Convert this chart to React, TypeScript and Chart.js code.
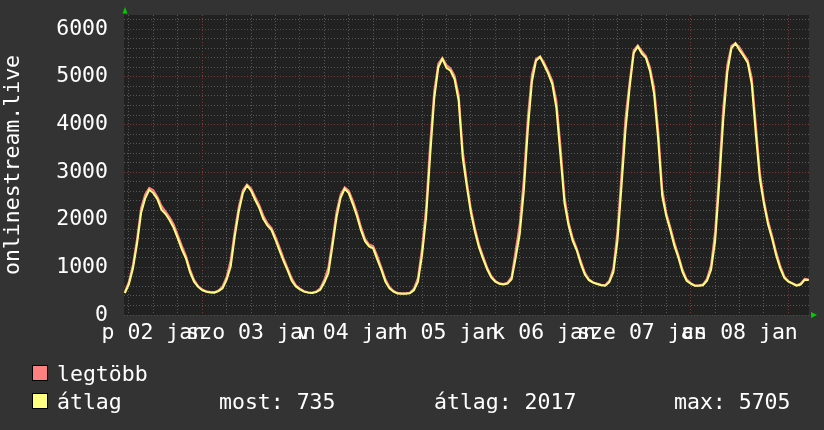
import React, { useEffect, useRef } from "react";
import { Chart, registerables } from "chart.js";

Chart.register(...registerables);

// hours counted from 2 Jan 00:00
const START_HOUR = 5;
const X_MIN = 4.79;
const X_MAX = 173.06;

const avgValues = [
  460, 650, 980, 1500, 2150, 2450, 2630, 2560, 2430, 2210, 2120, 1990, 1830, 1610, 1380, 1190, 900, 700, 590,
  520, 490, 475, 470, 500, 560, 740, 1020, 1650, 2180, 2560, 2720, 2610, 2420, 2250, 2020, 1880, 1790, 1580, 1350, 1130, 930, 720, 600,
  540, 490, 470, 460, 480, 530, 680, 880, 1450, 2050, 2460, 2650, 2560, 2330, 2080, 1780, 1550, 1440, 1400, 1170, 950, 700, 560, 490,
  450, 445, 445, 456, 520, 700, 1250, 2050, 3350, 4550, 5200, 5380, 5190, 5130, 4950, 4500, 3300, 2700, 2150, 1750, 1420, 1180, 960, 790,
  700, 655, 640, 660, 750, 1200, 1700, 2600, 3900, 4900, 5340, 5420, 5250, 5070, 4850, 4350, 3350, 2350, 1880, 1560, 1360, 1080, 850, 730,
  680, 650, 625, 615, 690, 900, 1550, 2700, 3900, 4780, 5500, 5640, 5490, 5400, 5120, 4650, 3700, 2500, 2080, 1780, 1450, 1200, 900, 720,
  660, 612, 615, 625, 720, 950, 1550, 2750, 4100, 5100, 5600, 5705, 5560, 5440, 5300, 4850, 3800, 2850, 2330, 1900, 1600, 1250, 980, 780,
  700, 660, 615, 640, 740, 735,
];

const maxValues = [
  480, 700, 1060, 1600, 2250, 2530, 2670, 2620, 2480, 2290, 2170, 2050, 1900, 1680, 1450, 1240, 960, 740, 610,
  535, 500, 485, 480, 515, 600, 800, 1150, 1760, 2280, 2620, 2740, 2660, 2480, 2310, 2090, 1930, 1830, 1640, 1420, 1190, 980, 770, 625,
  555, 500, 480, 470, 495, 560, 740, 1000, 1560, 2170, 2530, 2680, 2610, 2400, 2150, 1850, 1600, 1480, 1450, 1240, 1000, 750, 590, 505,
  460, 455, 455, 470, 550, 780, 1400, 2250, 3600, 4700, 5280, 5400, 5250, 5180, 5020, 4620, 3450, 2800, 2230, 1820, 1480, 1230, 1000, 820,
  715, 665, 650, 680, 800, 1350, 1900, 2850, 4150, 5050, 5380, 5430, 5300, 5120, 4920, 4500, 3550, 2480, 1950, 1620, 1400, 1130, 890, 750,
  690, 660, 635, 625, 720, 980, 1750, 2950, 4150, 4900, 5560, 5660, 5540, 5440, 5200, 4780, 3900, 2650, 2140, 1840, 1520, 1250, 950, 750,
  670, 622, 625, 640, 760, 1050, 1750, 3000, 4350, 5250, 5650, 5705, 5620, 5480, 5350, 4980, 4000, 2980, 2400, 1980, 1660, 1320, 1030, 810,
  710, 670, 625, 660, 760, 745,
];

const dayLabels = ["p 02 jan", "szo 03 jan", "v 04 jan", "h 05 jan", "k 06 jan", "sze 07 jan", "cs 08 jan"];
const yMax = 6300;
const yAxisTitle = "onlinestream.live";
const seriesNames = ["legtöbb", "átlag"];
const statLabels = ["most: 735", "átlag: 2017", "max: 5705"];

const FONT = "'DejaVu Sans Mono', monospace";
const FSIZE = 21.5;
const MAX_COLOR = "#FF8080";
const AVG_COLOR = "#FFFF80";

const decorPlugin = {
  id: "decor",
  beforeDraw(chart: any) {
    const { ctx, chartArea: a } = chart;
    ctx.save();
    ctx.fillStyle = "#333333";
    ctx.fillRect(0, 0, chart.width, chart.height);
    ctx.fillStyle = "#212121";
    ctx.fillRect(a.left, a.top, a.right - a.left, a.bottom - a.top);
    ctx.restore();
  },
  afterDraw(chart: any) {
    const { ctx, chartArea: a } = chart;
    ctx.save();
    // arrows
    ctx.fillStyle = "#00CC00";
    ctx.beginPath();
    ctx.moveTo(a.left - 1.5, a.top - 1.5);
    ctx.lineTo(a.left + 3.5, a.top - 1.5);
    ctx.lineTo(a.left + 1, a.top - 8);
    ctx.closePath();
    ctx.fill();
    ctx.beginPath();
    ctx.moveTo(a.right + 2, a.bottom - 3);
    ctx.lineTo(a.right + 2, a.bottom + 3);
    ctx.lineTo(a.right + 8, a.bottom);
    ctx.closePath();
    ctx.fill();
    // legend
    const boxes = [
      { y: 365.5, c: MAX_COLOR },
      { y: 393.5, c: AVG_COLOR },
    ];
    boxes.forEach((b) => {
      ctx.fillStyle = b.c;
      ctx.fillRect(32.5, b.y, 15, 15);
      ctx.strokeStyle = "#000000";
      ctx.lineWidth = 1;
      ctx.strokeRect(32.5, b.y, 15, 15);
    });
    ctx.fillStyle = "#FFFFFF";
    ctx.font = `${FSIZE}px ${FONT}`;
    ctx.textBaseline = "alphabetic";
    ctx.textAlign = "left";
    ctx.fillText(seriesNames[0], 57, 381);
    ctx.fillText(seriesNames[1], 57, 409);
    ctx.fillText(statLabels[0], 219, 409);
    ctx.fillText(statLabels[1], 434, 409);
    ctx.fillText(statLabels[2], 674, 409);
    ctx.restore();
  },
};

export default function App() {
  const ref = useRef<HTMLCanvasElement>(null);

  useEffect(() => {
    if (!ref.current) return;
    const toPts = (arr: number[]) => arr.map((v, i) => ({ x: START_HOUR + i, y: v }));
    const chart = new Chart(ref.current, {
      type: "line",
      data: {
        datasets: [
          {
            label: seriesNames[1],
            data: toPts(avgValues),
            borderColor: AVG_COLOR,
            borderWidth: 2,
            pointRadius: 0,
            tension: 0,
            fill: false,
          },
          {
            label: seriesNames[0],
            data: toPts(maxValues),
            borderColor: MAX_COLOR,
            borderWidth: 2,
            pointRadius: 0,
            tension: 0,
            fill: false,
          },
        ],
      },
      options: {
        animation: false,
        responsive: false,
        devicePixelRatio: 1,
        layout: { padding: { left: 0, top: 15, right: 15, bottom: 85 } },
        plugins: { legend: { display: false }, tooltip: { enabled: false } },
        scales: {
          x: {
            type: "linear",
            min: X_MIN,
            max: X_MAX,
            afterFit: (s: any) => {
              s.height = 30;
              s.paddingLeft = 0;
              s.paddingRight = 0;
            },
            afterBuildTicks: (s: any) => {
              const t = [];
              for (let v = 6; v <= 168; v += 6) t.push({ value: v });
              s.ticks = t;
            },
            grid: {
              drawTicks: false,
              lineWidth: 1,
              color: (c: any) => (c.tick && c.tick.value % 24 === 0 ? "#7A3A3A" : "#585858"),
            },
            border: { display: false, dash: [1, 2] },
            ticks: {
              autoSkip: false,
              maxRotation: 0,
              minRotation: 0,
              padding: 6,
              color: "#FFFFFF",
              font: { family: FONT, size: FSIZE },
              callback: (v: any) => {
                const n = Number(v);
                return n % 24 === 12 ? dayLabels[(n - 12) / 24] : "";
              },
            },
          },
          y: {
            min: 0,
            max: yMax,
            afterFit: (s: any) => {
              s.width = 124;
              s.paddingTop = 0;
              s.paddingBottom = 0;
            },
            afterBuildTicks: (s: any) => {
              const t = [];
              for (let v = 0; v <= 6200; v += 200) t.push({ value: v });
              s.ticks = t;
            },
            grid: {
              drawTicks: false,
              lineWidth: 1,
              color: (c: any) => (c.tick && c.tick.value % 1000 === 0 ? "#7A3A3A" : "#585858"),
            },
            border: { display: false, dash: [1, 2] },
            title: {
              display: true,
              text: yAxisTitle,
              color: "#FFFFFF",
              font: { family: FONT, size: FSIZE },
              padding: { top: 1, bottom: 0 },
            },
            ticks: {
              autoSkip: false,
              padding: 16,
              color: "#FFFFFF",
              font: { family: FONT, size: FSIZE },
              callback: (v: any) => (Number(v) % 1000 === 0 ? String(v) : ""),
            },
          },
        },
      },
      plugins: [decorPlugin],
    });
    return () => chart.destroy();
  }, []);

  return (
    <div style={{ position: "absolute", left: 0, top: 0, width: 824, height: 430, background: "#333333" }}>
      <canvas ref={ref} width={824} height={430} style={{ display: "block", width: 824, height: 430 }} />
    </div>
  );
}
